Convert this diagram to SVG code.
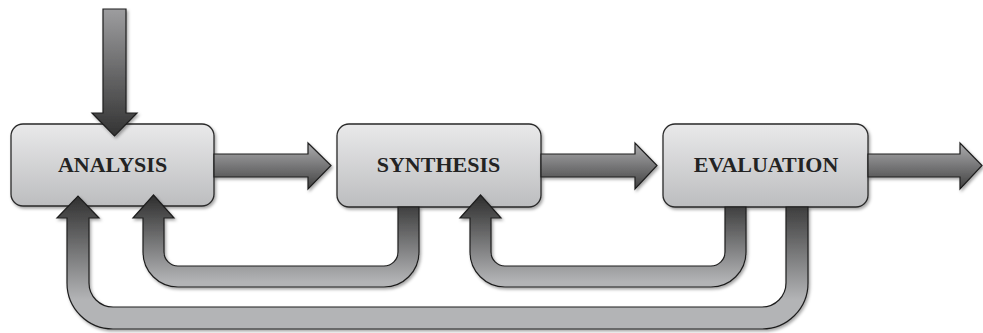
<svg xmlns="http://www.w3.org/2000/svg" width="983" height="333" viewBox="0 0 983 333">
<defs>
<linearGradient id="boxG" x1="0" y1="0" x2="0" y2="1">
<stop offset="0" stop-color="#e9e9ea"/>
<stop offset="1" stop-color="#bcbdbf"/>
</linearGradient>
<linearGradient id="hG" x1="0" y1="0" x2="0" y2="1">
<stop offset="0" stop-color="#adadaf"/>
<stop offset="1" stop-color="#404040"/>
</linearGradient>
<linearGradient id="downG" gradientUnits="userSpaceOnUse" x1="0" y1="9" x2="0" y2="136">
<stop offset="0" stop-color="#9d9d9f"/>
<stop offset="1" stop-color="#333333"/>
</linearGradient>
<linearGradient id="fbG" gradientUnits="userSpaceOnUse" x1="0" y1="200" x2="0" y2="282">
<stop offset="0" stop-color="#353535"/>
<stop offset="1" stop-color="#b3b4b6"/>
</linearGradient>
<linearGradient id="fbG2" gradientUnits="userSpaceOnUse" x1="0" y1="200" x2="0" y2="300">
<stop offset="0" stop-color="#353535"/>
<stop offset="1" stop-color="#b3b4b6"/>
</linearGradient>
<filter id="sh" x="-10%" y="-10%" width="130%" height="140%">
<feDropShadow dx="1.5" dy="2" stdDeviation="1.8" flood-color="#000" flood-opacity="0.35"/>
</filter>
</defs>
<style>
.box{fill:url(#boxG);stroke:#2a2a2a;stroke-width:1.3;filter:url(#sh)}
.lbl{font-family:"Liberation Serif","Times New Roman",serif;font-weight:bold;font-size:22px;fill:#232323;text-anchor:middle}
.arr{stroke:#1e1e1e;stroke-width:1.2;stroke-linejoin:miter;filter:url(#sh)}
.h{fill:url(#hG)}
</style>
<g id="nodes">
<g id="analysis">
<rect class="box" x="11" y="124" width="203" height="82" rx="12"/>
<text class="lbl" x="112.5" y="172">ANALYSIS</text>
</g>
<g id="synthesis">
<rect class="box" x="337" y="124" width="204" height="83" rx="12"/>
<text class="lbl" x="438.5" y="172">SYNTHESIS</text>
</g>
<g id="evaluation">
<rect class="box" x="663" y="124" width="205" height="83" rx="12"/>
<text class="lbl" x="766" y="172">EVALUATION</text>
</g>
</g>
<g id="connectors">
<path class="arr" fill="url(#downG)" d="M103 9 L126 9 L126 113 L137 113 L114.5 136 L92 113 L103 113 Z"/>
<path class="arr h" d="M214 154 L308 154 L308 143 L331 165.5 L308 189 L308 177 L214 177 Z"/>
<path class="arr h" d="M541 154 L635 154 L635 143 L657 165.5 L635 189 L635 177 L541 177 Z"/>
<path class="arr h" d="M868 154 L960 154 L960 143 L982 165.5 L960 189 L960 177 L868 177 Z"/>
<path class="arr" fill="url(#fbG)" d="M398 207 L419 207 L419 252 A35 35 0 0 1 384 287 L178 287 A35 35 0 0 1 143 252 L143 218 L133 218 L153.5 195 L174 218 L164 218 L164 252 A14 14 0 0 0 178 266 L384 266 A14 14 0 0 0 398 252 Z"/>
<path class="arr" fill="url(#fbG)" d="M725 207 L746 207 L746 252 A35 35 0 0 1 711 287 L505 287 A35 35 0 0 1 470 252 L470 218 L460 218 L480.5 195 L501 218 L491 218 L491 252 A14 14 0 0 0 505 266 L711 266 A14 14 0 0 0 725 252 Z"/>
<path class="arr" fill="url(#fbG2)" d="M786 207 L808 207 L808 283 A46 46 0 0 1 762 329 L113 329 A46 46 0 0 1 67 283 L67 218 L57 218 L78 196 L99 218 L89 218 L89 283 A24 24 0 0 0 113 307 L762 307 A24 24 0 0 0 786 283 Z"/>
</g>
</svg>
